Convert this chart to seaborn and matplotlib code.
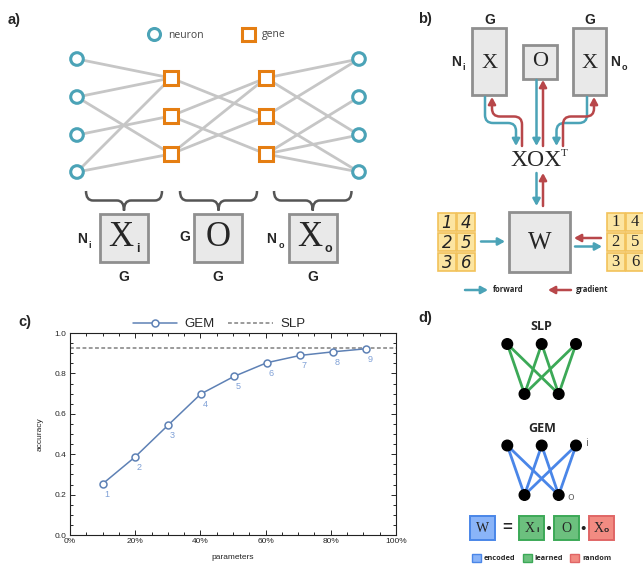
import numpy as np
import pandas as pd
import seaborn as sns
import matplotlib.pyplot as plt
from matplotlib.patches import Circle, Rectangle, FancyArrowPatch, PathPatch
from matplotlib.path import Path
from matplotlib.ticker import MultipleLocator, PercentFormatter

### panel c data (GEM accuracy vs fraction of parameters)
param_frac = [0.100, 0.200, 0.301, 0.401, 0.503, 0.604, 0.706, 0.808, 0.908]
gem_acc = [0.253, 0.387, 0.544, 0.698, 0.785, 0.853, 0.889, 0.907, 0.922]
gem_labels = ['1', '2', '3', '4', '5', '6', '7', '8', '9']
slp_acc = 0.926

### panel a network connectivity
left_edges = [(0, 0), (1, 0), (1, 2), (2, 1), (3, 0), (3, 2)]
mid_edges = [(0, 1), (1, 0), (1, 2), (2, 0), (2, 1)]
right_edges = [(0, 0), (0, 2), (1, 0), (1, 3), (2, 1), (2, 2), (2, 3)]

sns.set_style("ticks")
plt.rcParams['font.family'] = ['Liberation Sans', 'DejaVu Sans']

teal = '#4ba3b7'
orange = '#e57e12'
redarr = '#b8474a'
gem_blue = '#5e81b5'
serif = 'Liberation Serif'
osans = 'Open Sans'

fig = plt.figure(figsize=(6.43, 5.66), dpi=100)

# overlay in pixel coords for the schematic panels
ov = fig.add_axes([0, 0, 1, 1])
ov.set_xlim(0, 643)
ov.set_ylim(566, 0)
ov.axis('off')
ov.patch.set_alpha(0)

# panel letters
for lab, x, y in [('a)', 8, 20), ('b)', 418, 19), ('c)', 18, 322), ('d)', 418, 318)]:
    ov.text(x, y, lab, fontsize=10.5, fontweight='bold', va='center', ha='left')

# ---------------- panel a ----------------
ny = [59, 97, 135, 172]
gy = [78, 116, 154]
xl, xg1, xg2, xr = 77, 171, 266, 359
edge_kw = dict(color='#c6c6c6', lw=2, zorder=1, solid_capstyle='butt')
for i, j in left_edges:
    ov.plot([xl, xg1], [ny[i], gy[j]], **edge_kw)
for i, j in mid_edges:
    ov.plot([xg1, xg2], [gy[i], gy[j]], **edge_kw)
for i, j in right_edges:
    ov.plot([xg2, xr], [gy[i], ny[j]], **edge_kw)
for y in ny:
    for x in (xl, xr):
        ov.add_patch(Circle((x, y), 6.3, fc='white', ec=teal, lw=2.2, zorder=3))
for y in gy:
    for x in (xg1, xg2):
        ov.add_patch(Rectangle((x - 6.6, y - 6.6), 13.2, 13.2, fc='white', ec=orange, lw=2.2, zorder=3))

ov.add_patch(Circle((154.5, 34.5), 6, fc='white', ec=teal, lw=2.2))
ov.text(168, 35, 'neuron', fontsize=7.5, family=osans, color='#444', va='center')
ov.add_patch(Rectangle((242.3, 28.3), 12.4, 12.4, fc='white', ec=orange, lw=2.2))
ov.text(261.5, 35, 'gene', fontsize=7.5, family=osans, color='#444', va='center')


def brace(x0, x1, y0=191, ym=200.5, yb=210.5, r=7):
    xc = (x0 + x1) / 2
    verts = [(x0, y0), (x0, ym), (x0 + r, ym), (xc - r, ym), (xc, ym), (xc, yb),
             (xc, ym), (xc + r, ym), (x1 - r, ym), (x1, ym), (x1, y0)]
    codes = [Path.MOVETO, Path.CURVE3, Path.CURVE3, Path.LINETO, Path.CURVE3, Path.CURVE3,
             Path.CURVE3, Path.CURVE3, Path.LINETO, Path.CURVE3, Path.CURVE3]
    ov.add_patch(PathPatch(Path(verts, codes), fc='none', ec='#555555', lw=1.8))


for x0, x1 in [(86, 162), (180, 257), (274, 351.5)]:
    brace(x0, x1)

box_kw = dict(fc='#e9e9e9', ec='#8f8f8f', lw=2)
for x0 in (99.5, 194, 288.8):
    ov.add_patch(Rectangle((x0, 214), 48.3, 48, **box_kw))
ov.text(121, 238, 'X', family=serif, fontsize=25, ha='center', va='center')
ov.text(137.5, 249, 'i', fontsize=9, fontweight='bold', ha='center', va='center')
ov.text(218, 238, 'O', family=serif, fontsize=25, ha='center', va='center')
ov.text(309.5, 238, 'X', family=serif, fontsize=25, ha='center', va='center')
ov.text(328, 249, 'o', fontsize=9, fontweight='bold', ha='center', va='center')
for xc in (123.5, 218, 313):
    ov.text(xc, 277, 'G', fontsize=10, fontweight='bold', ha='center', va='center')
ov.text(82.5, 239, 'N', fontsize=10, fontweight='bold', ha='center', va='center')
ov.text(90, 246, 'i', fontsize=6.5, fontweight='bold', ha='center', va='center')
ov.text(185, 237, 'G', fontsize=10, fontweight='bold', ha='center', va='center')
ov.text(271.5, 239, 'N', fontsize=10, fontweight='bold', ha='center', va='center')
ov.text(281.5, 246, 'o', fontsize=6.5, fontweight='bold', ha='center', va='center')

# ---------------- panel b ----------------
ov.add_patch(Rectangle((472, 28), 34, 67, **box_kw))
ov.add_patch(Rectangle((523, 45), 34, 34, **box_kw))
ov.add_patch(Rectangle((573, 28), 33, 67, **box_kw))
ov.text(489.5, 63, 'X', family=serif, fontsize=16, ha='center', va='center')
ov.text(540, 62, 'O', family=serif, fontsize=16, ha='center', va='center')
ov.text(589.5, 63, 'X', family=serif, fontsize=16, ha='center', va='center')
ov.text(489.5, 20, 'G', fontsize=10, fontweight='bold', ha='center', va='center')
ov.text(589.5, 20, 'G', fontsize=10, fontweight='bold', ha='center', va='center')
ov.text(456, 62, 'N', fontsize=10, fontweight='bold', ha='center', va='center')
ov.text(463.5, 68, 'i', fontsize=6.5, fontweight='bold', ha='center', va='center')
ov.text(615.5, 62, 'N', fontsize=10, fontweight='bold', ha='center', va='center')
ov.text(624.5, 68, 'o', fontsize=6.5, fontweight='bold', ha='center', va='center')

astyle = '-|>,head_length=0.4,head_width=0.22'


def flow(verts, codes, color):
    ov.add_patch(FancyArrowPatch(path=Path(verts, codes), arrowstyle=astyle, mutation_scale=10,
                                 color=color, lw=1.8, zorder=2))


def bend(xa, ya, yh, xb, yb, r=8):
    # vertical from (xa, ya) to row yh, horizontal to xb, vertical to yb
    s = 1 if xb > xa else -1
    u = 1 if yb > ya else -1
    verts = [(xa, ya), (xa, yh - u * r), (xa, yh), (xa + s * r, yh), (xb - s * r, yh),
             (xb, yh), (xb, yh + u * r), (xb, yb)]
    codes = [Path.MOVETO, Path.LINETO, Path.CURVE3, Path.CURVE3, Path.LINETO,
             Path.CURVE3, Path.CURVE3, Path.LINETO]
    return verts, codes


flow(*bend(485, 97, 123, 516, 146), teal)
flow(*bend(522, 146, 116.5, 492, 97), redarr)
flow(*bend(587, 97, 123, 556.5, 146), teal)
flow(*bend(563, 146, 116.5, 594, 97), redarr)


def arrow(x0, y0, x1, y1, color):
    ov.annotate('', xy=(x1, y1), xytext=(x0, y0),
                arrowprops=dict(arrowstyle=astyle, mutation_scale=10, color=color, lw=1.8,
                                shrinkA=0, shrinkB=0))


arrow(536.5, 80, 536.5, 146, teal)
arrow(543, 146, 543, 80, redarr)
ov.text(536.5, 160, 'XOX', family=serif, fontsize=17, ha='center', va='center')
ov.text(564, 153, 'T', family=serif, fontsize=8, ha='center', va='center')
arrow(536.5, 173, 536.5, 206, teal)
arrow(543, 206, 543, 173, redarr)

ov.add_patch(Rectangle((509, 212), 61, 60, **box_kw))
ov.text(540, 243, 'W', family=serif, fontsize=18, ha='center', va='center')

cell_fc, cell_ec = '#fce5a1', '#f2c25a'
grid_nums = [['1', '4'], ['2', '5'], ['3', '6']]
for gx, fam, sty in [(437, 'DejaVu Sans', 'italic'), (606, serif, 'normal')]:
    for r in range(3):
        for c in range(2):
            x0, y0 = gx + c * 19.5, 212 + r * 20
            ov.add_patch(Rectangle((x0 + 0.6, y0 + 0.6), 18.3, 18.8, fc=cell_fc, ec=cell_ec, lw=1.2))
            ov.text(x0 + 9.8, y0 + 10.5, grid_nums[r][c], family=fam, style=sty, fontsize=12,
                    ha='center', va='center', color='#222')

arrow(481, 241.5, 505, 241.5, teal)
arrow(601, 238, 574, 238, redarr)
arrow(575, 246.5, 602, 246.5, teal)

arrow(465, 290, 488, 290, teal)
ov.text(493, 290, 'forward', family=osans, fontsize=5.5, fontweight='bold', va='center')
arrow(571, 290, 548, 290, redarr)
ov.text(576, 290, 'gradient', family=osans, fontsize=5.5, fontweight='bold', va='center')

# ---------------- panel d ----------------
green = '#3ca957'
blue_e = '#4a86e8'


def bipartite(ytop, ybot, color):
    tops = [507.3, 541.7, 576]
    bots = [524.5, 558.7]
    for xt in tops:
        for xb in bots:
            ov.plot([xt, xb], [ytop, ybot], color=color, lw=2, zorder=1)
    for xt in tops:
        ov.add_patch(Circle((xt, ytop), 5.3, color='black', zorder=3))
    for xb in bots:
        ov.add_patch(Circle((xb, ybot), 5.3, color='black', zorder=3))


ov.text(541.7, 326, 'SLP', family=osans, fontsize=9, fontweight='bold', ha='center', va='center')
bipartite(344, 394, green)
ov.text(541.7, 428, 'GEM', family=osans, fontsize=9, fontweight='bold', ha='center', va='center')
bipartite(445.5, 495, blue_e)
ov.text(587, 444, 'i', family=osans, fontsize=8, color='#666', ha='center', va='center')
ov.text(571, 497, 'o', family=osans, fontsize=8, color='#666', ha='center', va='center')

eq_boxes = [(470, '#8ab4f8', blue_e), (519, '#6cc07e', green), (553.5, '#6cc07e', green),
            (588.5, '#f28b82', '#e06666')]
for x0, fc, ec in eq_boxes:
    ov.add_patch(Rectangle((x0, 515.5), 25, 24.5, fc=fc, ec=ec, lw=1.4))
ov.text(482.5, 528, 'W', family=serif, fontsize=10, ha='center', va='center')
ov.text(507, 527.5, '=', fontsize=12, fontweight='bold', ha='center', va='center')
ov.text(529.5, 528, 'X', family=serif, fontsize=10, ha='center', va='center')
ov.text(537.5, 531, 'i', fontsize=6, fontweight='bold', ha='center', va='center')
ov.add_patch(Circle((549, 528), 1.3, color='#222'))
ov.text(566, 528, 'O', family=serif, fontsize=10, ha='center', va='center')
ov.add_patch(Circle((583.7, 528), 1.3, color='#222'))
ov.text(598.5, 528, 'X', family=serif, fontsize=10, ha='center', va='center')
ov.text(606.5, 531, 'o', fontsize=6, fontweight='bold', ha='center', va='center')

for x0, fc, ec, lab in [(472, '#8ab4f8', blue_e, 'encoded'), (522.5, '#6cc07e', green, 'learned'),
                        (570, '#f28b82', '#e06666', 'random')]:
    ov.add_patch(Rectangle((x0, 554), 9, 8, fc=fc, ec=ec, lw=1))
    ov.text(x0 + 12, 558.3, lab, family=osans, fontsize=5.3, fontweight='bold', va='center')

# ---------------- panel c (the chart) ----------------
ax = fig.add_axes([70 / 643, 1 - 535 / 566, 326 / 643, 202 / 566])
df = pd.DataFrame({'parameters': param_frac, 'accuracy': gem_acc})
sns.lineplot(data=df, x='parameters', y='accuracy', ax=ax, color=gem_blue, lw=1.1,
             marker='o', markersize=5, markerfacecolor='white', markeredgecolor=gem_blue,
             markeredgewidth=1.1, label='GEM', zorder=3)
ax.axhline(slp_acc, color='#808080', lw=1.1, dashes=(2.5, 1.6), label='SLP', zorder=2)
for x, y, t in zip(param_frac, gem_acc, gem_labels):
    ax.annotate(t, (x, y), xytext=(3, -7.5), textcoords='offset points', ha='center',
                va='center', fontsize=6.5, color='#7fa0d6')

ax.set_xlim(0, 1)
ax.set_ylim(0, 1)
ax.xaxis.set_major_locator(MultipleLocator(0.2))
ax.xaxis.set_minor_locator(MultipleLocator(0.05))
ax.yaxis.set_major_locator(MultipleLocator(0.2))
ax.yaxis.set_minor_locator(MultipleLocator(0.05))
ax.xaxis.set_major_formatter(PercentFormatter(1.0, decimals=0))
ax.yaxis.set_major_formatter(plt.FuncFormatter(lambda v, p: f'{v:.1f}'))
ax.tick_params(which='both', direction='in', top=True, right=True, labelsize=6, width=0.7,
               pad=2.5)
ax.tick_params(which='major', length=3.5)
ax.tick_params(which='minor', length=2)
for sp in ax.spines.values():
    sp.set_linewidth(0.8)
    sp.set_color('#222')
ax.set_xlabel('parameters', fontsize=6, labelpad=6)
ax.set_ylabel('accuracy', fontsize=6, labelpad=8)
ax.legend(loc='center', bbox_to_anchor=(219 / 643, 1 - 324 / 566), bbox_transform=fig.transFigure,
          ncol=2, frameon=False, fontsize=9.5, handlelength=3.4, handletextpad=0.55,
          columnspacing=1.0, borderpad=0)

fig.savefig('out.png', dpi=100)
